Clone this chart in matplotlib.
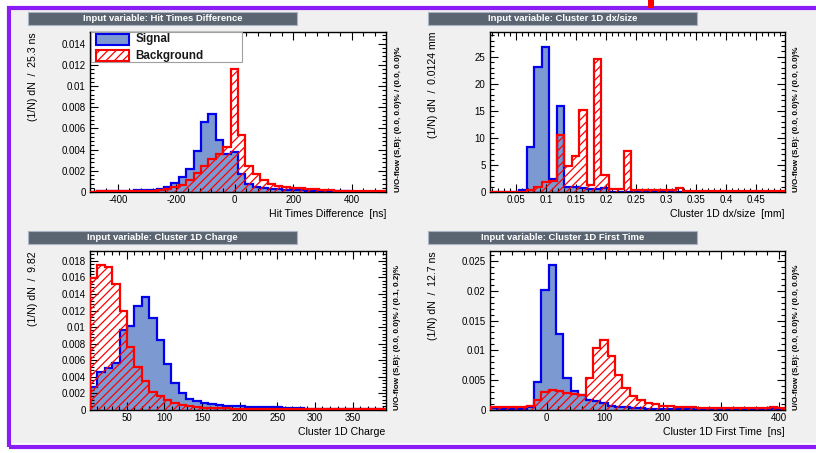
import numpy as np
import matplotlib.pyplot as plt
from matplotlib.patches import Rectangle
from matplotlib.ticker import MultipleLocator, AutoMinorLocator, FuncFormatter

plt.rcParams['font.family'] = ['Liberation Sans', 'DejaVu Sans']
plt.rcParams['hatch.linewidth'] = 0.9
plt.rcParams['hatch.color'] = 'red'

W, H = 816, 453

# --- normalised input-variable histograms (40 bins each) ---
hit_dt_start, hit_dt_width = -495.0, 25.3
hit_dt_sig = [0.00004, 0.00006, 0.00008, 0.0001, 0.00012, 0.00014, 0.00016, 0.00018, 0.0002, 0.00025,
              0.00045, 0.00085, 0.0014, 0.0022, 0.0039, 0.0066, 0.0074, 0.0049, 0.0036, 0.0038,
              0.0017, 0.00072, 0.0005, 0.0004, 0.0003, 0.00024, 0.0002, 0.00018, 0.00015, 0.00012,
              0.0001, 0.00008, 0.00007, 0.00006, 0.00005, 0.00004, 0.00003, 0.00003, 0.00002, 0.00002]
hit_dt_bkg = [0.00004, 0.00005, 0.00006, 0.00007, 0.00008, 0.00009, 0.0001, 0.00012, 0.00013, 0.00015,
              0.00025, 0.0005, 0.0007, 0.0011, 0.0018, 0.0025, 0.0031, 0.0036, 0.0042, 0.0116,
              0.0054, 0.0025, 0.0017, 0.0011, 0.0008, 0.0006, 0.00048, 0.0004, 0.00035, 0.0003,
              0.00025, 0.0002, 0.00015, 0.00012, 0.0001, 0.0001, 0.00008, 0.00008, 0.00006, 0.00005]

dxsize_start, dxsize_width = 0.0058, 0.0124
dxsize_sig = [0, 0, 0, 0.05, 0.4, 8.3, 23.2, 26.9, 2.4, 16.0,
              1.0, 0.9, 0.7, 0.6, 0.5, 0.8, 0, 0, 0, 0,
              0, 0, 0, 0, 0, 0, 0, 0, 0, 0,
              0, 0, 0, 0, 0, 0, 0, 0, 0, 0]
dxsize_bkg = [0, 0, 0, 0, 0, 0.4, 1.0, 1.9, 2.0, 10.5,
              4.8, 6.6, 15.1, 1.3, 24.6, 3.2, 0.5, 0.5, 7.5, 0.3,
              0.3, 0.3, 0.3, 0.3, 0.3, 0.75, 0.15, 0.15, 0.15, 0.15,
              0.15, 0.15, 0.15, 0.15, 0.15, 0.15, 0.15, 0.15, 0.15, 0.15]

charge_start, charge_width = 1.2, 9.82
charge_sig = [0.0027, 0.0046, 0.005, 0.0057, 0.0096, 0.0101, 0.0126, 0.0136, 0.0111, 0.0084,
              0.0055, 0.0032, 0.002, 0.0013, 0.001, 0.00085, 0.0007, 0.00055, 0.00045, 0.00042,
              0.0004, 0.00038, 0.00035, 0.00033, 0.0003, 0.00028, 0.00025, 0.00022, 0.0002, 0.00012,
              0.0001, 0.00009, 0.00008, 0.00007, 0.00006, 0.00005, 0.00005, 0.00004, 0.00004, 0.00003]
charge_bkg = [0.0159, 0.0175, 0.0173, 0.0152, 0.0120, 0.0076, 0.0052, 0.0035, 0.0022, 0.0016,
              0.0012, 0.00085, 0.00055, 0.0004, 0.0003, 0.00025, 0.0002, 0.00018, 0.00015, 0.00013,
              0.00012, 0.00011, 0.0001, 0.0001, 0.0001, 0.00009, 0.00009, 0.00008, 0.00008, 0.00008,
              0.00007, 0.00007, 0.00007, 0.00006, 0.00006, 0.00006, 0.00005, 0.00005, 0.00005, 0.00005]

ftime_start, ftime_width = -98.3, 12.7
ftime_sig = [0.0003, 0.0002, 0.0002, 0.0002, 0.0002, 0.0004, 0.0047, 0.0202, 0.0243, 0.0127,
             0.0054, 0.0031, 0.0024, 0.0017, 0.0014, 0.0011, 0.0007, 0.0005, 0.0004, 0.0003,
             0.00025, 0.0002, 0.0002, 0.00015, 0.00015, 0.00012, 0.0001, 0.0001, 0.0001, 0.0001,
             0.0001, 0.0001, 0.0001, 0.0001, 0.0001, 0.0001, 0.0001, 0.0001, 0.0001, 0.0001]
ftime_bkg = [0.0005, 0.0004, 0.0004, 0.0004, 0.0004, 0.0007, 0.0016, 0.0029, 0.0033, 0.0031,
             0.0028, 0.0027, 0.0025, 0.0054, 0.0104, 0.0117, 0.0091, 0.0058, 0.0036, 0.0023,
             0.0016, 0.0012, 0.0009, 0.0007, 0.0006, 0.0005, 0.00045, 0.0004, 0.00035, 0.0003,
             0.0003, 0.00028, 0.00025, 0.00025, 0.0003, 0.0003, 0.00028, 0.00025, 0.0004, 0.0003]

titles = ["Hit Times Difference", "Cluster 1D dx/size", "Cluster 1D Charge", "Cluster 1D First Time"]
xlabels = ["Hit Times Difference  [ns]", "Cluster 1D dx/size  [mm]",
           "Cluster 1D Charge", "Cluster 1D First Time  [ns]"]
ylabels = ["(1/N) dN  /  25.3 ns", "(1/N) dN  /  0.0124 mm",
           "(1/N) dN  /  9.82", "(1/N) dN  /  12.7 ns"]
oflow = ["U/O-flow (S,B): (0.0, 0.0)% / (0.0, 0.0)%", "U/O-flow (S,B): (0.0, 0.0)% / (0.0, 0.0)%",
         "U/O-flow (S,B): (0.0, 0.0)% / (0.1, 0.2)%", "U/O-flow (S,B): (0.0, 0.0)% / (0.0, 0.0)%"]

SIG_FILL = '#7d99d1'
SIG_LINE = '#0000ee'
BKG_LINE = '#ff0000'
HATCH = '////'


def fx(px):
    return px / W


def fy(py):
    return 1 - py / H


def fig_rect(l, t, r, b, **kw):
    return Rectangle((fx(l), fy(b)), (r - l) / W, (b - t) / H, transform=fig.transFigure, **kw)


fig = plt.figure(figsize=(W / 100, H / 100), dpi=100)
fig.patch.set_facecolor('white')

# canvas background + purple frame
fig.patches.append(fig_rect(12, 10, W + 5, 443, facecolor='#f0f0f0', edgecolor='none', zorder=-20))
fig.patches.append(fig_rect(9, 7.5, W + 10, 447, facecolor='none', edgecolor='#8a1cf5',
                            linewidth=3.0, zorder=-19))
fig.patches.append(fig_rect(648, 0, 654, 7.5, facecolor='#ff0000', edgecolor='none', zorder=-18))

# (left, top, right, bottom) of each axes in pixels
ax_boxes = [(90, 32, 386, 192), (489.7, 32, 784.7, 192),
            (90, 251, 385.7, 409.7), (489.7, 251, 784.7, 409.7)]
xlims = [(-495, 517), (0.0058, 0.497), (1.2, 394), (-98.3, 409.7)]
ylims = [0.0151, 29.6, 0.0192, 0.0267]
xmajor = [200, 0.05, 50, 100]
ymajor = [0.002, 5, 0.002, 0.005]
hists = [(hit_dt_start, hit_dt_width, hit_dt_sig, hit_dt_bkg),
         (dxsize_start, dxsize_width, dxsize_sig, dxsize_bkg),
         (charge_start, charge_width, charge_sig, charge_bkg),
         (ftime_start, ftime_width, ftime_sig, ftime_bkg)]

fmt = FuncFormatter(lambda v, p: '%g' % round(v, 6))

for i, (l, t, r, b) in enumerate(ax_boxes):
    ax = fig.add_axes([fx(l), fy(b), (r - l) / W, (b - t) / H])
    start, width, sig, bkg = hists[i]
    edges = start + width * np.arange(len(sig) + 1)

    ax.stairs(sig, edges, fill=True, facecolor=SIG_FILL, edgecolor='none', zorder=1)
    ax.stairs(sig, edges, color=SIG_LINE, linewidth=1.6, zorder=2)
    ax.stairs(bkg, edges, fill=True, facecolor='none', edgecolor=BKG_LINE, hatch=HATCH,
              linewidth=0, zorder=3)
    ax.stairs(bkg, edges, color=BKG_LINE, linewidth=1.6, zorder=4)

    ax.set_xlim(*xlims[i])
    ax.set_ylim(0, ylims[i])
    ax.xaxis.set_major_locator(MultipleLocator(xmajor[i]))
    ax.yaxis.set_major_locator(MultipleLocator(ymajor[i]))
    ax.xaxis.set_minor_locator(AutoMinorLocator(5))
    ax.yaxis.set_minor_locator(AutoMinorLocator(5))
    ax.xaxis.set_major_formatter(fmt)
    ax.yaxis.set_major_formatter(fmt)
    ax.tick_params(which='both', direction='in', top=True, right=True, labelsize=7, width=0.8)
    ax.tick_params(which='major', length=5.5)
    ax.tick_params(which='minor', length=2.8)
    ax.tick_params(axis='x', pad=2.5)
    ax.tick_params(axis='y', pad=3)
    for s in ax.spines.values():
        s.set_linewidth(1.0)

    # title bar
    bl = l - 62
    bt = t - 20
    fig.patches.append(fig_rect(bl, bt, bl + 269, bt + 12.5, facecolor='#5b6572',
                                edgecolor='#aab4c4', linewidth=0.8))
    fig.text(fx(bl + 134.5), fy(bt + 6.4), "Input variable: " + titles[i], color='white',
             fontsize=6.8, fontweight='bold', ha='center', va='center')

    fig.text(fx(l - 57), fy(t), ylabels[i], rotation=90, ha='center', va='top', fontsize=7.6)
    fig.text(fx(r), fy(b + 22), xlabels[i], ha='right', va='center', fontsize=7.6)
    fig.text(fx(r + 12), fy(b), oflow[i], rotation=90, ha='center', va='bottom',
             fontsize=5.8, fontweight='bold')

# legend in the first panel
fig.patches.append(fig_rect(90.5, 32, 242, 62, facecolor='white', edgecolor='#a0a0a0',
                            linewidth=0.8, zorder=5))
fig.patches.append(fig_rect(96, 33.7, 129, 44.7, facecolor=SIG_FILL, edgecolor=SIG_LINE,
                            linewidth=1.5, zorder=6))
fig.patches.append(fig_rect(96, 50, 129, 61, facecolor='white', edgecolor=BKG_LINE,
                            hatch=HATCH, linewidth=1.5, zorder=6))
fig.text(fx(135.7), fy(39.2), "Signal", fontsize=8.4, fontweight='bold', color='#1a1a1a',
         ha='left', va='center', zorder=7)
fig.text(fx(135.7), fy(55.5), "Background", fontsize=8.4, fontweight='bold', color='#1a1a1a',
         ha='left', va='center', zorder=7)

fig.savefig("out.png", dpi=100)
